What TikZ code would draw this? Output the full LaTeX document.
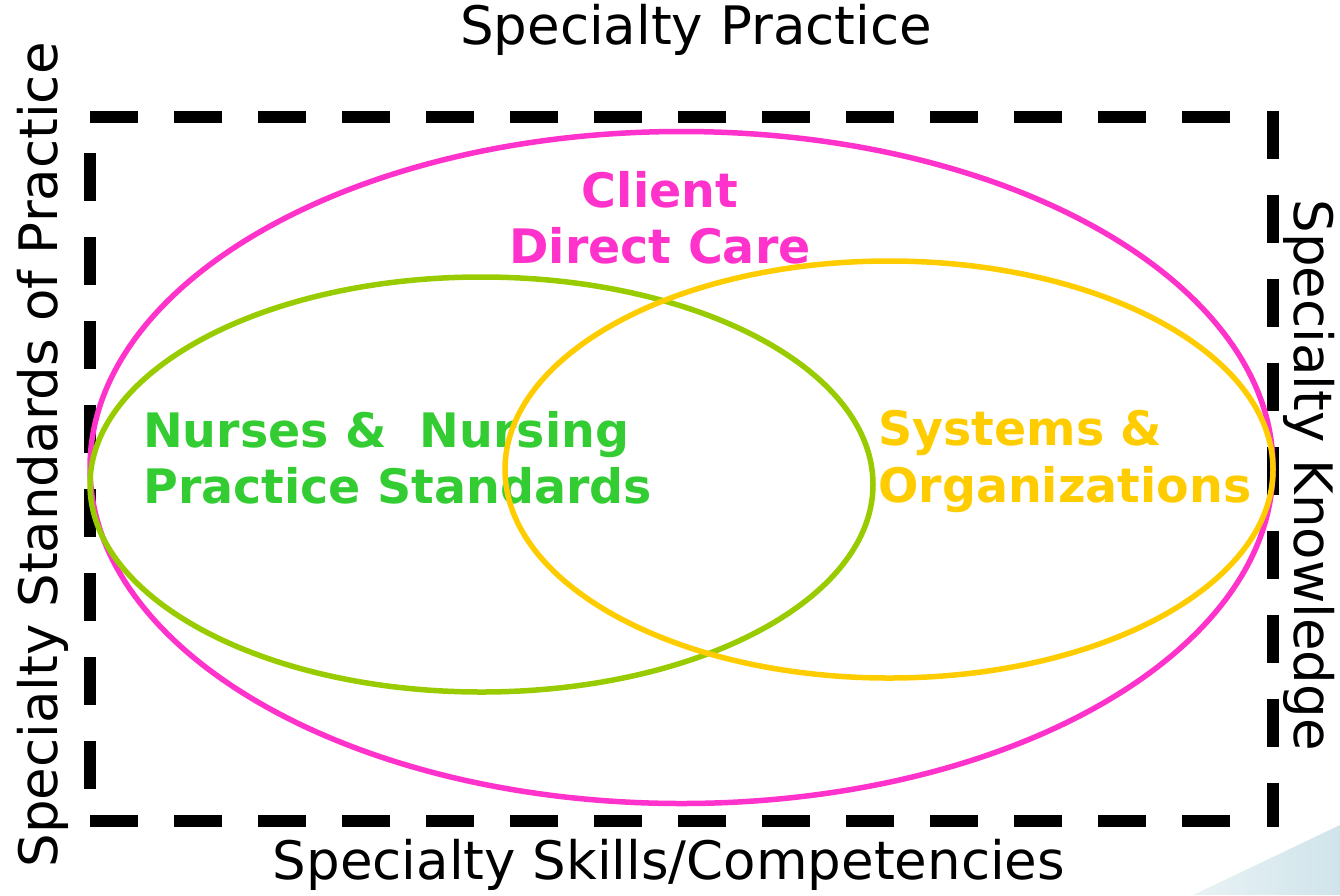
\documentclass[tikz,border=0pt]{standalone}
\usepackage{fontspec}
\setmainfont{DejaVu Sans}
\definecolor{carepink}{RGB}{255,51,204}
\definecolor{ringgreen}{RGB}{153,204,0}
\definecolor{nursegreen}{RGB}{51,204,51}
\definecolor{sysyellow}{RGB}{255,204,0}
\definecolor{cornerblue}{RGB}{207,228,234}
\begin{document}
\begin{tikzpicture}[x=1pt,y=-1pt,
  frame/.style={line width=12pt, dash pattern=on 48pt off 36pt},
  ring/.style={line width=5.5pt},
  side/.style={font=\fontsize{53}{60}\selectfont, inner sep=0pt},
  group/.style={font=\bfseries\fontsize{47.5}{56}\selectfont, inner sep=0pt}]
\useasboundingbox (0,0) rectangle (1340,895);

% corner decoration
\shade[left color=cornerblue!45, right color=cornerblue]
  (1193,895) -- (1340,825) -- (1340,895) -- cycle;

% dashed frame, one side at a time
\coordinate (tl) at (90,117);
\coordinate (tr) at (1266,117);
\coordinate (rt) at (1273,111);
\coordinate (rb) at (1273,827);
\coordinate (bl) at (90,821);
\coordinate (br) at (1266,821);
\coordinate (lt) at (90,153);
\coordinate (lb) at (90,800);
\draw[frame] (tl) -- (tr);
\draw[frame] (rt) -- (rb);
\draw[frame] (bl) -- (br);
\draw[frame] (lt) -- (lb);

% rings
\draw[ring, carepink] (681.5,467.5) ellipse [x radius=591.5pt, y radius=336pt];
\draw[ring, ringgreen] (481.5,484.5) ellipse [x radius=391.5pt, y radius=207.5pt];

% ring labels
\node[group, text=carepink, anchor=base] (client1) at (660,207) {Client};
\node[group, text=carepink, anchor=base] (client2) at (660,263) {Direct Care};
\node[group, text=nursegreen, anchor=base west] (nurse1) at (143,447) {Nurses \& \ Nursing};
\node[group, text=nursegreen, anchor=base west] (nurse2) at (143,503) {Practice Standards};
\node[group, text=sysyellow, anchor=base west] (sys1) at (878,445) {Systems \&};
\node[group, text=sysyellow, anchor=base west] (sys2) at (878,502) {Organizations};

\draw[ring, sysyellow] (889,469.5) ellipse [x radius=384pt, y radius=208.5pt];

% side labels
\node[side, anchor=base] (top) at (696,44) {Specialty Practice};
\node[side, anchor=base] (bottom) at (669,879) {Specialty Skills/Competencies};
\node[side, rotate=90, anchor=base] (left) at (57,455) {Specialty Standards of Practice};
\node[side, rotate=-90, anchor=base] (right) at (1294,475) {Specialty Knowledge};
\end{tikzpicture}
\end{document}
